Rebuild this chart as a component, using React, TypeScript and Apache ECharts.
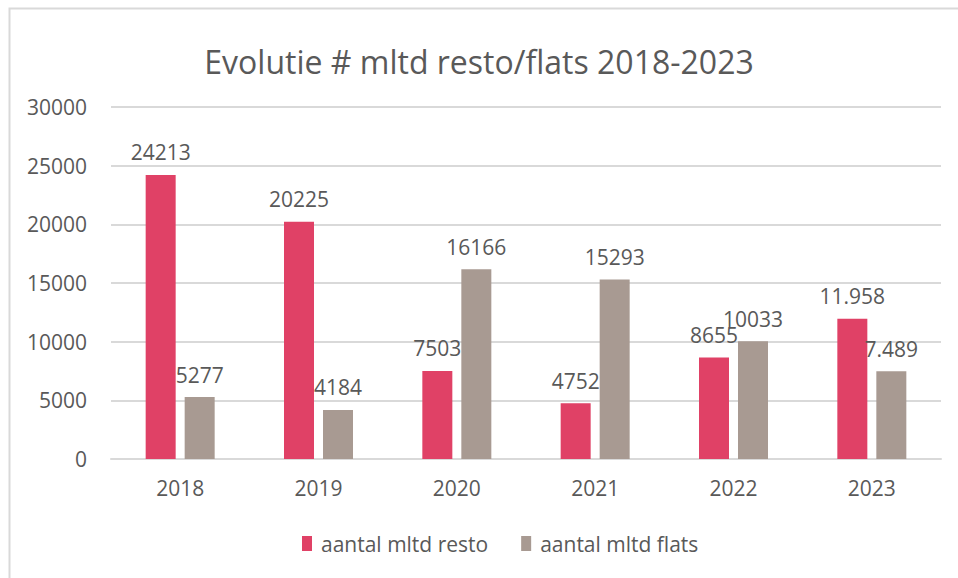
import React, { useEffect, useRef } from "react";
import * as echarts from "echarts";

const categories = ["2018", "2019", "2020", "2021", "2022", "2023"];
const restoValues = [24213, 20225, 7503, 4752, 8655, 11958];
const flatsValues = [5277, 4184, 16166, 15293, 10033, 7489];
const restoLabels = ["24213", "20225", "7503", "4752", "8655", "11.958"];
const flatsLabels = ["5277", "4184", "16166", "15293", "10033", "7.489"];
const seriesNames = ["aantal mltd resto", "aantal mltd flats"];
const titleText = "Evolutie # mltd resto/flats 2018-2023";

const FONT = "'Open Sans', 'Noto Sans', sans-serif";
const TEXT = "#595959";

export default function App() {
  const ref = useRef<HTMLDivElement>(null);
  useEffect(() => {
    if (!ref.current) return;
    const chart = echarts.init(ref.current, undefined, { renderer: "svg" });
    const labelCfg = (labels: string[]) => ({
      show: true,
      position: "top",
      distance: 12,
      fontFamily: FONT,
      fontSize: 21,
      color: TEXT,
      formatter: (p: any) => labels[p.dataIndex],
    });
    chart.setOption({
      animation: false,
      backgroundColor: "#ffffff",
      textStyle: { fontFamily: FONT, color: TEXT },
      graphic: [
        {
          type: "rect",
          shape: { x: 9.5, y: 8.5, width: 1000, height: 600 },
          style: { fill: "none", stroke: "#d9d9d9", lineWidth: 2 },
          silent: true,
        },
      ],
      title: {
        text: titleText,
        left: "center",
        top: 40,
        textStyle: { fontFamily: FONT, fontSize: 32, fontWeight: "normal", color: TEXT },
      },
      legend: {
        top: 528,
        left: 297,
        itemWidth: 10,
        itemHeight: 15,
        itemGap: 33,
        icon: "rect",
        textStyle: { fontFamily: FONT, fontSize: 21, color: TEXT, padding: [0, 0, 0, 4] },
        data: seriesNames,
      },
      grid: { left: 111, right: 17, top: 107, bottom: 119, containLabel: false },
      xAxis: {
        type: "category",
        data: categories,
        axisLine: { lineStyle: { color: "#d9d9d9", width: 2 } },
        axisTick: { show: false },
        axisLabel: { fontFamily: FONT, fontSize: 21, color: TEXT, margin: 18 },
      },
      yAxis: {
        type: "value",
        min: 0,
        max: 30000,
        interval: 5000,
        axisLine: { show: false },
        axisTick: { show: false },
        axisLabel: {
          fontFamily: FONT,
          fontSize: 21,
          color: TEXT,
          margin: 24,
          formatter: (v: number) => String(v),
        },
        splitLine: { lineStyle: { color: "#d9d9d9", width: 2 } },
      },
      series: [
        {
          name: seriesNames[0],
          type: "bar",
          data: restoValues,
          barWidth: 30,
          barGap: "30%",
          itemStyle: { color: "#E04166" },
          label: labelCfg(restoLabels),
        },
        {
          name: seriesNames[1],
          type: "bar",
          data: flatsValues,
          barWidth: 30,
          barGap: "30%",
          itemStyle: { color: "#A89A92" },
          label: labelCfg(flatsLabels),
        },
      ],
    });
    return () => chart.dispose();
  }, []);
  return (
    <div
      ref={ref}
      style={{ position: "fixed", left: 0, top: 0, width: 958, height: 578 }}
    />
  );
}
